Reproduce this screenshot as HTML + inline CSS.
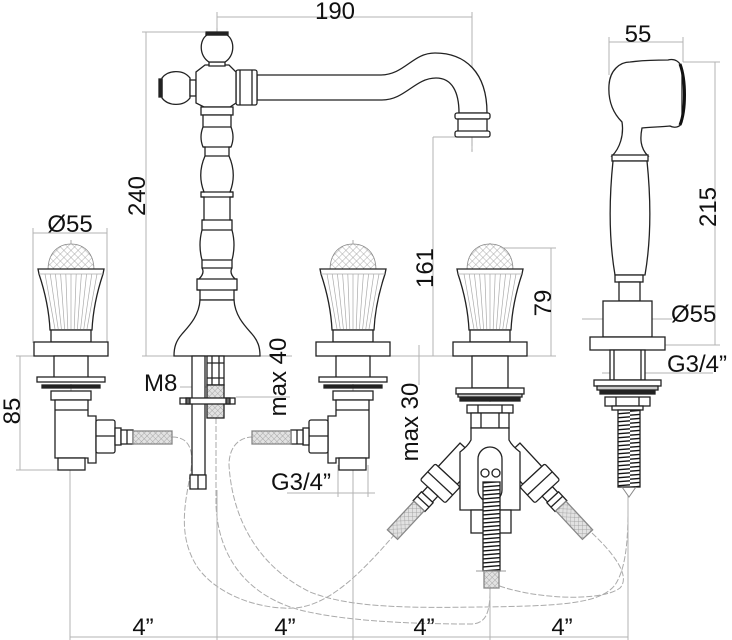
<!DOCTYPE html>
<html><head><meta charset="utf-8"><style>
html,body{margin:0;padding:0;background:#fff;}
svg{display:block;}
text{font-family:"Liberation Sans",Arial,sans-serif;font-size:24px;fill:#111;}
</style></head><body>
<svg width="732" height="640" viewBox="0 0 732 640" xmlns="http://www.w3.org/2000/svg">
<defs>
<pattern id="xh" width="5" height="5" patternUnits="userSpaceOnUse" patternTransform="rotate(45)">
  <rect width="5" height="5" fill="#fff"/>
  <path d="M0,0 H5 M0,0 V5" stroke="#999" stroke-width="0.8"/>
</pattern>
<pattern id="br" width="4" height="4" patternUnits="userSpaceOnUse" patternTransform="rotate(45)">
  <rect width="4" height="4" fill="#e2e2e2"/>
  <path d="M0,0 H4 M0,0 V4" stroke="#999" stroke-width="0.8"/>
</pattern>
<pattern id="sp" width="30" height="4" patternUnits="userSpaceOnUse">
  <rect width="30" height="4" fill="#fff"/>
  <path d="M0,3.2 L30,0.8" stroke="#111" stroke-width="1.3"/>
</pattern>
<g id="knob">
  <path d="M-23,27 C-23,9 -12,1 0,1 C12,1 23,9 23,27 Z" fill="url(#xh)" stroke="#888" stroke-width="0.8"/>
  <path d="M-33,26 L33,26 L32,31 C27,46 22,66 21,87 L-21,87 C-22,66 -27,46 -32,31 Z" fill="#fff" stroke="#222" stroke-width="1.3"/>
  <g stroke="#aaa" stroke-width="0.7" fill="none">
    <path d="M-32,31 H32"/>
    <path d="M-26,31 L-16,86 M-20.8,31 L-12.8,86 M-15.6,31 L-9.6,86 M-10.4,31 L-6.4,86 M-5.2,31 L-3.2,86 M0,31 L0,86 M5.2,31 L3.2,86 M10.4,31 L6.4,86 M15.6,31 L9.6,86 M20.8,31 L12.8,86 M26,31 L16,86"/>
  </g>
  <rect x="-20" y="87" width="40" height="12" fill="#fff" stroke="#222" stroke-width="1.3"/>
  <rect x="-37" y="99" width="74" height="14" fill="#fff" stroke="#222" stroke-width="1.3"/>
</g>
<g id="lv" fill="#fff" stroke="#222" stroke-width="1.3">
  <rect x="54" y="356" width="34" height="22"/>
  <rect x="37" y="377" width="68" height="5"/>
  <rect x="42" y="385" width="58" height="3" fill="#222"/>
  <rect x="51" y="391" width="40" height="9"/>
  <path d="M55,400 H88 V416 H96 V463 H88 V458 H55 Z"/>
  <line x1="55" y1="410" x2="88" y2="410"/>
  <rect x="58" y="458" width="27" height="12"/>
  <rect x="96" y="420" width="19" height="33" rx="2"/>
  <line x1="96" y1="436" x2="115" y2="436"/>
  <rect x="115" y="428" width="6" height="17"/>
  <rect x="121" y="430" width="12" height="14"/>
  <line x1="127" y1="430" x2="127" y2="444"/>
  <rect x="133" y="431" width="39" height="13" fill="url(#br)" stroke="#888"/>
</g>
<g id="arm" fill="#fff" stroke="#222" stroke-width="1.3">
  <rect x="30" y="-13" width="32" height="26"/>
  <rect x="62" y="-17" width="22" height="34" rx="2"/>
  <line x1="73" y1="-17" x2="73" y2="17"/>
  <rect x="84" y="-7" width="8" height="14"/>
  <rect x="92" y="-8" width="12" height="16"/>
  <line x1="98" y1="-8" x2="98" y2="8"/>
  <rect x="104" y="-7" width="39" height="14" fill="url(#br)" stroke="#888"/>
</g>
</defs>

<!-- grey hose curves -->
<g fill="none" stroke="#aaa" stroke-width="1" stroke-dasharray="6 2">
  <path d="M172,437 C188,437 194,448 191,470 C186,500 176,535 198,568 C220,598 265,610 295,608 C330,605 362,572 395,534"/>
  <path d="M216,418 L216,505 C218,555 245,595 300,610 C340,620 400,624 470,624 C485,624 490,615 490,590"/>
  <path d="M253,437 C238,437 229,448 229,465 C232,515 255,565 310,592 C350,608 410,608 480,607 C560,606 600,604 615,585 C625,570 628,545 628,510"/>
  <path d="M592,533 C610,550 632,575 620,588 C600,603 530,598 497,585"/>
</g>

<!-- dimension / extension lines -->
<g stroke="#b3b3b3" stroke-width="1" fill="none">
  <path d="M217,17 H472 M472,12 V152 M217,12 V30"/>
  <path d="M146,32 V356 M142,32 H205 M142,356 H175"/>
  <path d="M33,233 H107 M33,228 V343 M107,228 V343"/>
  <path d="M20,356 V470 M16,356 H37 M16,470 H58"/>
  <path d="M433,137 V356 M433,137 H462 M390,356 H453 M260,356 H292 M236,397 H290 M419,345 V385"/>
  <path d="M551,248 V356 M490,248 H556 M527,356 H556"/>
  <path d="M609,42 H683 M609,37 V75 M683,37 V62"/>
  <path d="M715,62 V345 M683,62 H720 M665,345 H720 M582,319 H672"/>
  <path d="M602,373 H713"/>
  <path d="M287,493 H375 M338,465 V497 M368,465 V497"/>
  <path d="M70,637 H628 M70,470 V640 M217,490 V640 M353,470 V640 M490,590 V640 M628,495 V640"/>
  <path d="M180,387 H208"/>
</g>
<g stroke="#aaa" stroke-width="1" fill="none" stroke-dasharray="10 3 2 3">
  <path d="M71,240 V470 M217,28 V356 M353,240 V470 M490,243 V590 M472,100 V152"/>
</g>

<!-- knobs -->
<use href="#knob" transform="translate(71,243)"/>
<use href="#knob" transform="translate(353,243)"/>
<use href="#knob" transform="translate(490,243)"/>
<use href="#lv"/>
<use href="#lv" transform="translate(424,0) scale(-1,1)"/>

<!-- spout -->
<g fill="#fff" stroke="#222" stroke-width="1.3">
  <path d="M257,75 H380 C405,75 412,53 435,53 C465,53 487,72 487,113 H459 C459,92 452,78 436,78 C415,78 405,100 382,100 H257 Z"/>
  <rect x="455" y="113" width="35" height="6" rx="2"/>
  <rect x="458" y="119" width="29" height="13"/>
  <rect x="455" y="131" width="35" height="6" rx="2"/>
  <rect x="236" y="70" width="21" height="35" rx="2"/>
  <path d="M240,70 V105 M252,70 V105"/>
  <path d="M162,78 C168,70 183,69 190,78 L190,98 C183,107 168,106 162,98 Z"/>
  <rect x="159" y="79" width="3" height="18" fill="#222"/>
  <rect x="190" y="80" width="6" height="16"/>
  <path d="M205,65 H229 L236,72 V103 L230,107 H204 L196,103 V72 Z"/>
  <path d="M209,62 H225 V66 H209 Z"/>
  <path d="M207,35 C199,40 199,56 209,62 L225,62 C235,56 235,40 227,35 Z"/>
  <rect x="206" y="32" width="22" height="3" fill="#222"/>
  <rect x="201" y="107" width="32" height="8"/>
  <path d="M231,115 L231,127 Q235,137 231,147 L229,147 L229,156 Q237,174 230,192 L233,192 L233,197 L230,197 L230,220 L232,220 L232,230 Q236,245 232,260 L232,268 Q229,273 235,279 L237,279 L237,290 L234,290 L234,300 L200,300 L200,290 L197,290 L197,279 L199,279 Q205,273 202,268 L202,260 Q198,245 202,230 L202,220 L204,220 L204,197 L201,197 L201,192 L204,192 Q197,174 205,156 L205,147 L203,147 Q199,137 203,127 L203,115 Z"/>
  <path d="M203,127 H231 M203,147 H231 M205,156 H229 M201,192 H233 M201,197 H233 M202,220 H232 M202,230 H232 M202,260 H232 M202,268 H232 M197,279 H237 M197,290 H237" fill="none"/>
  <path d="M200,300 H234 C235,316 245,326 252,334 C258,341 260,347 260,356 H174 C174,347 176,341 182,334 C189,326 199,316 200,300 Z"/>
  <rect x="192" y="356" width="13" height="119"/>
  <rect x="190" y="475" width="16" height="14"/>
  <line x1="198" y1="475" x2="198" y2="489"/>
  <rect x="207" y="356" width="17" height="29"/>
  <path d="M212,356 V385 M219,356 V385 M207,363 H224 M207,378 H224" fill="none"/>
  <rect x="207" y="385" width="17" height="33" fill="url(#br)"/>
  <rect x="180" y="398" width="55" height="6"/>
  <rect x="186" y="398" width="4" height="6" fill="#666"/>
  <rect x="226" y="398" width="4" height="6" fill="#666"/>
</g>

<!-- diverter -->
<g fill="#fff" stroke="#222" stroke-width="1.3">
  <rect x="472" y="356" width="36" height="32"/>
  <rect x="456" y="388" width="68" height="6"/>
  <rect x="458" y="394" width="64" height="3" fill="#ccc"/>
  <rect x="460" y="398" width="60" height="3" fill="#222"/>
  <rect x="467" y="405" width="46" height="8"/>
  <path d="M478,405 V413 M502,405 V413" fill="none"/>
  <rect x="471" y="413" width="38" height="15"/>
  <path d="M481,413 V428 M499,413 V428" fill="none"/>
  <use href="#arm" transform="translate(490,430) rotate(133)"/>
  <use href="#arm" transform="translate(490,430) rotate(47)"/>
  <path d="M471,428 H509 V440 Q512,446 520,452 V510 H460 V452 Q468,446 471,440 Z"/>
  <rect x="478" y="447" width="24" height="55" rx="12"/>
  <circle cx="485" cy="473" r="4"/>
  <circle cx="496" cy="473" r="4"/>
  <rect x="471" y="510" width="40" height="23"/>
  <rect x="483" y="482" width="17" height="89" fill="url(#sp)"/>
  <rect x="484" y="571" width="15" height="17" fill="url(#br)" stroke="#888"/>
  <line x1="476" y1="571" x2="506" y2="571" stroke="#999" stroke-width="1"/>
</g>

<!-- hand shower -->
<g fill="#fff" stroke="#222" stroke-width="1.3">
  <path d="M630,62 C645,60 660,60 668,60 C675,58 680,62 682,68 L682,122 C680,128 674,128 670,126 C660,127 650,127 642,128 C640,138 640,148 648,156 L612,156 C620,148 624,135 622,122 C612,112 608,100 609,85 C610,70 620,62 630,62 Z"/>
  <path d="M680,64 C686,80 686,110 680,125" fill="none" stroke="#111" stroke-width="3"/>
  <rect x="612" y="155" width="36" height="6"/>
  <path d="M613,161 H647 C651,200 651,240 645,275 H615 C609,240 609,200 613,161 Z"/>
  <rect x="615" y="275" width="28" height="7"/>
  <rect x="619" y="282" width="21" height="19"/>
  <rect x="603" y="301" width="49" height="36"/>
  <rect x="590" y="337" width="75" height="13"/>
  <rect x="610" y="350" width="35" height="30"/>
  <path d="M614,350 V380 M641,350 V380" fill="none"/>
  <rect x="594" y="380" width="67" height="6"/>
  <rect x="597" y="386" width="61" height="4" fill="#ccc"/>
  <rect x="600" y="391" width="55" height="3" fill="#222"/>
  <rect x="605" y="397" width="45" height="9"/>
  <path d="M616,397 V406 M639,397 V406" fill="none"/>
  <rect x="612" y="406" width="31" height="4"/>
  <rect x="618" y="410" width="22" height="77" fill="url(#sp)"/>
  <path d="M622,487 L629,497 L636,487" fill="none" stroke="#888" stroke-width="1"/>
</g>

<!-- labels -->
<text x="335" y="19" text-anchor="middle">190</text>
<text transform="translate(145,196) rotate(-90)" text-anchor="middle">240</text>
<text x="70" y="232" text-anchor="middle">Ø55</text>
<text transform="translate(20,411) rotate(-90)" text-anchor="middle">85</text>
<text x="144" y="391">M8</text>
<text transform="translate(286,377) rotate(-90)" text-anchor="middle">max 40</text>
<text x="271" y="490">G3/4”</text>
<text transform="translate(433,268) rotate(-90)" text-anchor="middle">161</text>
<text transform="translate(418,422) rotate(-90)" text-anchor="middle">max 30</text>
<text transform="translate(551,303) rotate(-90)" text-anchor="middle">79</text>
<text x="638" y="42" text-anchor="middle">55</text>
<text transform="translate(716,207) rotate(-90)" text-anchor="middle">215</text>
<text x="671" y="322">Ø55</text>
<text x="667" y="372">G3/4”</text>
<text x="143" y="635" text-anchor="middle">4”</text>
<text x="285" y="635" text-anchor="middle">4”</text>
<text x="424" y="635" text-anchor="middle">4”</text>
<text x="562" y="635" text-anchor="middle">4”</text>
</svg>
</body></html>
